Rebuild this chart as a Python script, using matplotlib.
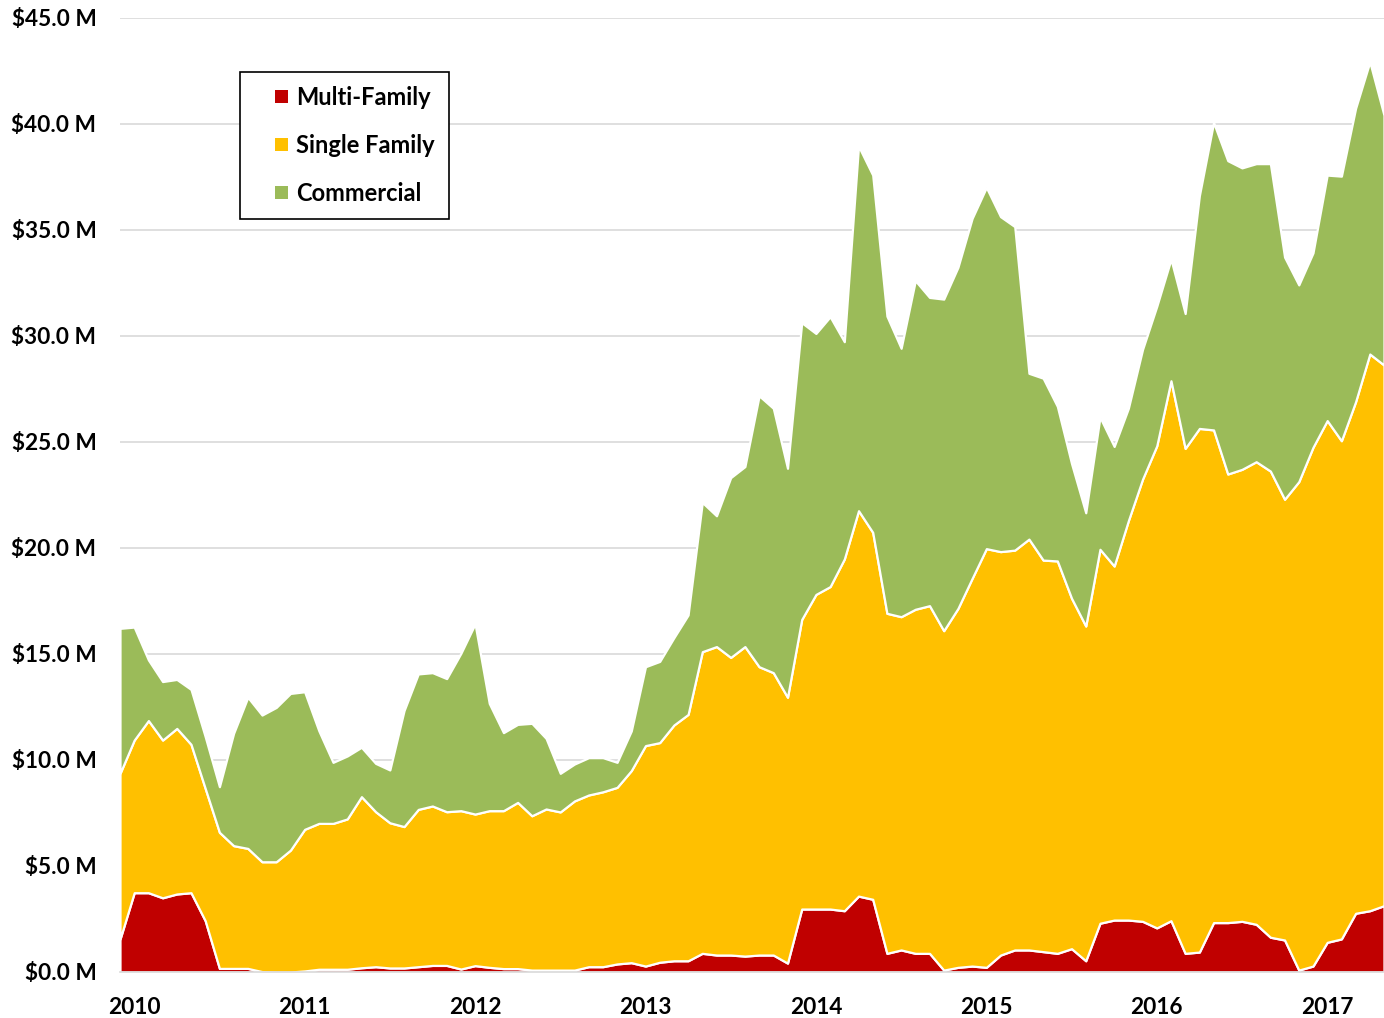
import numpy as np
import matplotlib
matplotlib.use('Agg')
import matplotlib.pyplot as plt
from matplotlib.patches import Patch, Rectangle
from matplotlib.legend_handler import HandlerPatch

# monthly values in $M (Dec 2009 - May 2017)
multi_family = [1.55, 3.74, 3.74, 3.50, 3.68, 3.74, 2.42, 0.17, 0.17, 0.17,
                0.02, 0.00, 0.00, 0.05, 0.13, 0.13, 0.13, 0.20, 0.25, 0.19,
                0.19, 0.25, 0.31, 0.31, 0.14, 0.30, 0.22, 0.16, 0.16, 0.09,
                0.09, 0.09, 0.09, 0.25, 0.25, 0.38, 0.44, 0.28, 0.46, 0.53,
                0.53, 0.88, 0.80, 0.80, 0.75, 0.80, 0.80, 0.42, 2.97, 2.97,
                2.97, 2.89, 3.58, 3.43, 0.88, 1.04, 0.88, 0.88, 0.09, 0.22,
                0.28, 0.22, 0.80, 1.04, 1.04, 0.96, 0.88, 1.10, 0.53, 2.30,
                2.45, 2.45, 2.39, 2.08, 2.42, 0.88, 0.94, 2.33, 2.33, 2.39,
                2.25, 1.64, 1.51, 0.09, 0.28, 1.40, 1.56, 2.77, 2.89, 3.13]
single_family = [7.82, 7.20, 8.12, 7.44, 7.81, 7.00, 6.24, 6.42, 5.79, 5.66,
                 5.18, 5.20, 5.75, 6.68, 6.88, 6.88, 7.09, 8.07, 7.31, 6.85,
                 6.67, 7.42, 7.52, 7.25, 7.47, 7.15, 7.39, 7.45, 7.84, 7.28,
                 7.60, 7.46, 7.98, 8.10, 8.25, 8.33, 9.06, 10.40, 10.36, 11.12,
                 11.62, 14.23, 14.55, 14.04, 14.60, 13.60, 13.32, 12.54, 13.66, 14.84,
                 15.21, 16.59, 18.18, 17.31, 16.04, 15.72, 16.23, 16.40, 16.01, 16.93,
                 18.29, 19.75, 19.03, 18.86, 19.38, 18.47, 18.51, 16.53, 15.79, 17.64,
                 16.70, 18.84, 20.86, 22.74, 25.47, 23.82, 24.70, 23.24, 21.16, 21.32,
                 21.82, 21.99, 20.79, 23.04, 24.47, 24.61, 23.50, 24.13, 26.26, 25.50]
commercial = [6.84, 5.33, 2.86, 2.76, 2.31, 2.59, 2.44, 2.15, 5.30, 7.13,
              6.92, 7.28, 7.39, 6.49, 4.37, 2.88, 2.97, 2.33, 2.28, 2.49,
              5.47, 6.39, 6.29, 6.28, 7.42, 8.97, 5.06, 3.68, 3.68, 4.36,
              3.33, 1.82, 1.74, 1.76, 1.61, 1.18, 1.87, 3.72, 3.83, 4.12,
              4.69, 7.04, 6.17, 8.48, 8.49, 12.78, 12.47, 10.80, 14.00, 12.31,
              12.73, 10.25, 17.20, 16.85, 14.02, 12.66, 15.50, 14.54, 15.64, 16.09,
              16.98, 17.04, 15.80, 15.26, 7.82, 8.58, 7.29, 6.35, 5.34, 6.23,
              5.64, 5.30, 6.12, 6.58, 5.73, 6.36, 10.98, 14.50, 14.78, 14.22,
              14.06, 14.50, 11.42, 9.28, 9.17, 11.58, 12.48, 13.84, 13.78, 11.78]
years = ['2010', '2011', '2012', '2013', '2014', '2015', '2016', '2017']
series_names = ['Multi-Family', 'Single Family', 'Commercial']
colors = ['#C00000', '#FFC000', '#9BBB59']

plt.rcParams['font.family'] = ['Lato', 'DejaVu Sans']

months = np.arange(len(multi_family))

fig = plt.figure(figsize=(13.84, 10.18), dpi=100)
ax = fig.add_axes([120/1384, 46/1018, 1 - 120/1384, (972-18)/1018])

ax.stackplot(months, multi_family, single_family, commercial,
             colors=colors, edgecolor='white', linewidth=1.6, zorder=2)

# axes
ax.set_xlim(0, len(months) - 1)
ax.set_ylim(0, 45)
ax.set_yticks(np.arange(0, 46, 5))
ax.set_yticklabels(['$%.1f M' % v for v in np.arange(0, 46, 5)],
                   fontsize=16.3, fontweight='bold')
ax.set_xticks(months[1::12])
ax.set_xticklabels(years, fontsize=16.3, fontweight='bold')
ax.tick_params(axis='y', length=0, pad=17)
ax.tick_params(axis='x', length=0, pad=18)
ax.grid(axis='y', color='#d9d9d9', linewidth=1.2, zorder=0)
ax.set_axisbelow(True)
for s in ['top', 'right', 'left']:
    ax.spines[s].set_visible(False)
ax.spines['bottom'].set_color('#d9d9d9')
ax.spines['bottom'].set_linewidth(1.2)


# small square marker sitting at the right of the handle box
def square(legend, orig_handle, xdescent, ydescent, width, height, fontsize):
    s = 9.4
    return Rectangle((width - s - xdescent, (height - s) / 2 - ydescent), s, s)


handles = [Patch(facecolor=c, edgecolor='none') for c in colors]
leg = ax.legend(handles, series_names, loc='upper left',
                bbox_to_anchor=(240/1384, 1 - 72/1018),
                bbox_transform=fig.transFigure, borderaxespad=0,
                fancybox=False, edgecolor='black', framealpha=1,
                prop={'size': 17, 'weight': 'bold'},
                handlelength=1.42, handleheight=0.7, handletextpad=0.35,
                labelspacing=1.05, borderpad=0.6,
                handler_map={Patch: HandlerPatch(patch_func=square)})
leg.get_frame().set_linewidth(1.2)

fig.savefig('out.png', dpi=100)
